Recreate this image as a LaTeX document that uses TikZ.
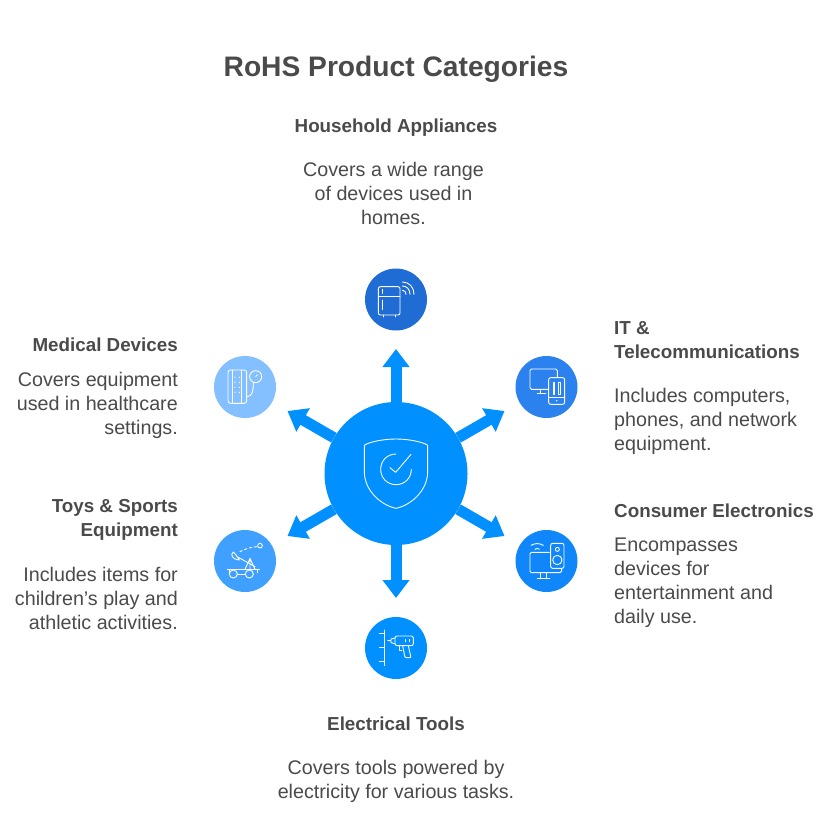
\documentclass[tikz,border=0pt]{standalone}
\usepackage{fontspec}
\setmainfont{Liberation Sans}
\usetikzlibrary{arrows.meta}
\definecolor{txt}{HTML}{4A4A4A}
\definecolor{hubc}{HTML}{0090FF}
\definecolor{cA}{HTML}{1F6DD4}
\definecolor{cB}{HTML}{2B82EE}
\definecolor{cC}{HTML}{0F87FB}
\definecolor{cD}{HTML}{0090FF}
\definecolor{cE}{HTML}{3FA0FF}
\definecolor{cF}{HTML}{84BFFF}
\tikzset{
  ttl/.style={font=\fontsize{28.2}{34}\selectfont\bfseries,text=txt,inner sep=0pt},
  head/.style={font=\fontsize{18.8}{24}\selectfont\bfseries,text=txt,inner sep=0pt},
  body/.style={font=\fontsize{19.7}{24}\selectfont,text=txt,inner sep=0pt},
  badge/.style={circle,minimum size=62pt,inner sep=0pt,fill=#1},
  hub/.style={circle,minimum size=143pt,inner sep=0pt,fill=hubc},
  spoke/.style={draw=hubc,line width=11pt,-{Triangle[length=18pt,width=26pt,fill=hubc]}},
  icon/.style={draw=white,line width=.9pt,line cap=round,line join=round,fill=none},
}
\begin{document}
\begin{tikzpicture}[x=1pt,y=-1pt]
\useasboundingbox (0,0) rectangle (837,817);
\node[hub] (H) at (396,473.5) {};
\coordinate (tA) at (396,349);
\coordinate (tB) at (504.5,411);
\coordinate (tC) at (504.5,536);
\coordinate (tD) at (396,598);
\coordinate (tE) at (287.5,536);
\coordinate (tF) at (287.5,411);
\foreach \t in {tA,tB,tC,tD,tE,tF}{\draw[spoke] (H) -- (\t);}
\node[badge=cA] (bA) at (396,299.5) {};
\node[badge=cB] (bB) at (546.5,387) {};
\node[badge=cC] (bC) at (546.5,561) {};
\node[badge=cD] (bD) at (396,648) {};
\node[badge=cE] (bE) at (245,561) {};
\node[badge=cF] (bF) at (245,387) {};
% hub shield
\begin{scope}[shift={(280,340)},scale=1/3]
\draw[icon] (253,320) .. controls (253,314) and (256,313) .. (262,311) .. controls (285,302) and (320,297) .. (348,297) .. controls (376,297) and (411,302) .. (434,311) .. controls (440,313) and (443,314) .. (443,320) -- (443,395) .. controls (443,450) and (395,495) .. (348,505) .. controls (301,495) and (253,450) .. (253,395) -- cycle;
\draw[icon] (348,342) .. controls (322,342) and (302,362) .. (302,388) .. controls (302,414) and (322,434) .. (348,434) .. controls (374,434) and (394,414) .. (394,388);
\draw[icon] (330,383) -- (347,397) -- (393,343);
\end{scope}
% fridge
\begin{scope}[shift={(350,260)},scale=1/3]
\draw[icon,rounded corners=2pt] (85,80) rectangle (150,165);
\draw[icon] (85,108) -- (150,108) (97,88) -- (97,100) (97,120) -- (97,148) (100,165) -- (100,171) (135,165) -- (135,171);
\draw[icon] (157,91) .. controls (164,91) and (168,96) .. (168,103);
\draw[icon] (157,78) .. controls (171,78) and (180,89) .. (180,103);
\draw[icon] (157,66) .. controls (178,66) and (192,82) .. (192,103);
\end{scope}
% monitor + phone
\begin{scope}[shift={(500,345)},scale=1/3]
\draw[icon,rounded corners=1.5pt] (145,133) -- (90,133) -- (90,72) -- (172,72) -- (172,97);
\draw[icon] (122,133) -- (122,145) (112,146) -- (138,146);
\draw[icon,rounded corners=2pt] (146,98) rectangle (194,178);
\draw[icon] (146,158) -- (194,158);
\draw[icon] (160,112) rectangle (164,148) (176,112) rectangle (180,148);
\fill[white] (170,167) circle[radius=2.5];
\end{scope}
% monitor + speaker
\begin{scope}[shift={(500,520)},scale=1/3]
\draw[icon] (93,76) .. controls (105,69) and (118,69) .. (130,76);
\draw[icon] (105,88) .. controls (110,84) and (114,84) .. (118,88);
\draw[icon,rounded corners=1.5pt] (148,97) -- (90,97) -- (90,158) -- (185,158) -- (185,148);
\draw[icon] (122,158) -- (122,175) (138,158) -- (138,175) (112,176) -- (150,176);
\draw[icon,rounded corners=2pt] (152,70) rectangle (192,145);
\draw[icon] (172,88) circle[radius=6];
\draw[icon] (172,120) circle[radius=14];
\end{scope}
% drill
\begin{scope}[shift={(350,605)},scale=1/3]
\draw[icon] (102,75) -- (102,182) (88,86) -- (102,86) (88,128) -- (102,128) (88,170) -- (102,170);
\draw[icon,rounded corners=2pt] (135,93) rectangle (190,122);
\draw[icon] (135,99) -- (123,102) -- (123,113) -- (135,116) (123,107) -- (113,107);
\draw[icon,rounded corners=1pt] (158,122) -- (165,158) -- (183,158) -- (175,122);
\draw[icon] (148,122) -- (148,135) -- (156,135);
\draw[icon] (167,104) -- (167,110) (178,104) -- (178,110);
\end{scope}
% catapult
\begin{scope}[shift={(200,520)},scale=1/3]
\draw[icon] (180,77) circle[radius=7];
\draw[icon,dash pattern=on 2.5pt off 2.5pt] (120,95) .. controls (135,87) and (150,82) .. (170,80);
\draw[icon] (100,96) .. controls (90,103) and (96,118) .. (118,120) .. controls (112,110) and (107,102) .. (100,96);
\draw[icon] (115,112) -- (165,140);
\draw[icon] (135,148) -- (150,115) -- (165,148) (150,115) -- (150,148);
\draw[icon] (82,148) -- (178,148) (88,148) -- (88,158) (172,148) -- (172,158);
\draw[icon] (100,162) circle[radius=12];
\draw[icon] (148,162) circle[radius=12];
\draw[icon] (112,162) -- (136,162);
\end{scope}
% medical
\begin{scope}[shift={(200,345)},scale=1/3]
\draw[icon,rounded corners=2.5pt] (84,75) rectangle (140,175);
\draw[icon] (97,75) -- (97,175) (125,75) -- (125,175);
\foreach \yy in {97,112,127,142}{\fill[white] (105,\yy) circle[radius=1.8];\fill[white] (118,\yy) circle[radius=1.8];}
\draw[icon] (167,95) circle[radius=18];
\draw[icon] (167,95) -- (172,90);
\draw[icon] (160,113) .. controls (160,135) and (158,155) .. (141,155);
\end{scope}
% text
\node[ttl] (T) at (396,69.5) {RoHS Product Categories};
\node[head] (a1) at (396,128) {Household Appliances};
\node[body,align=center] (a2) at (393.5,193) {Covers a wide range\\of devices used in\\homes.};
\node[head,align=left,anchor=west] (b1) at (614,340) {IT \&\\Telecommunications};
\node[body,align=left,anchor=west] (b2) at (614,421.5) {Includes computers,\\phones, and network\\equipment.};
\node[head,anchor=west] (c1) at (614,511) {Consumer Electronics};
\node[body,align=left,anchor=west] (c2) at (614,583) {Encompasses\\devices for\\entertainment and\\daily use.};
\node[head] (d1) at (396,724) {Electrical Tools};
\node[body,align=center] (d2) at (396,781) {Covers tools powered by\\electricity for various tasks.};
\node[head,align=right,anchor=east] (e1) at (178,520) {Toys \& Sports\\Equipment};
\node[body,align=right,anchor=east] (e2) at (178,598) {Includes items for\\children's play and\\athletic activities.};
\node[head,anchor=east] (f1) at (178,345) {Medical Devices};
\node[body,align=right,anchor=east] (f2) at (178,405.5) {Covers equipment\\used in healthcare\\settings.};
\end{tikzpicture}
\end{document}
